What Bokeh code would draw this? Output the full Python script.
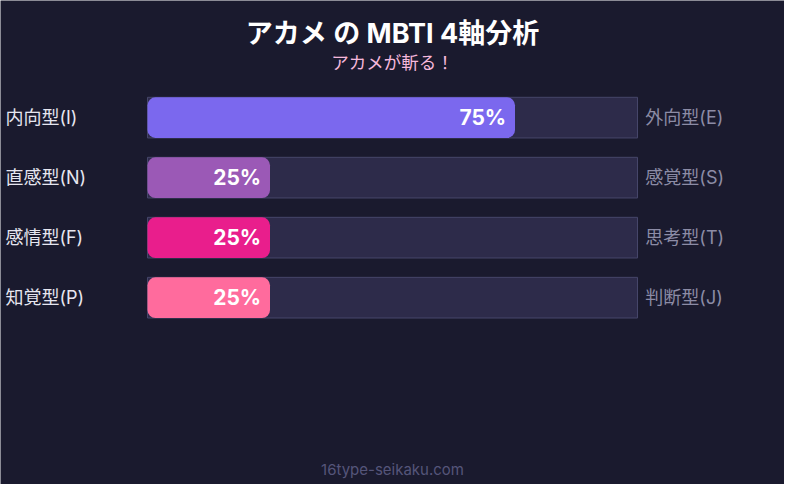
from bokeh.plotting import figure
from bokeh.models import Range1d
from bokeh.core.properties import value
from bokeh.embed import file_html
from bokeh.resources import INLINE

title = "アカメ の MBTI 4軸分析"
subtitle = "アカメが斬る！"
footer = "16type-seikaku.com"
left_labels = ["内向型(I)", "直感型(N)", "感情型(F)", "知覚型(P)"]
right_labels = ["外向型(E)", "感覚型(S)", "思考型(T)", "判断型(J)"]
percents = [75, 25, 25, 25]
colors = ["#7b68ee", "#9b59b6", "#e91e8c", "#ff6b9d"]

FONT = "Inter, 'Noto Sans CJK JP'"
W, H = 784, 484
# reference layout (800x500): x 0..100 -> px 150..650 ; row i -> px 121 + 62*i
px_per_x = 5.0
px_per_row = 62.0
x0_ref, y0_ref = 150.0, 121.0
x_start = (0 - x0_ref) / px_per_x
x_end = (800 - x0_ref) / px_per_x
y_top = (0 - y0_ref) / px_per_row
y_bot = (500 - y0_ref) / px_per_row

def fx(px):
    return (px - x0_ref) / px_per_x

def fy(py):
    return (py - y0_ref) / px_per_row

p = figure(width=W, height=H, output_backend="svg", toolbar_location=None,
           x_range=Range1d(x_start, x_end), y_range=Range1d(y_bot, y_top),
           min_border=0, background_fill_color="#1a1a2e",
           border_fill_color="#1a1a2e", outline_line_color=None)
p.axis.visible = False
p.grid.visible = False

rows = list(range(len(percents)))
bh = 42 / px_per_row

p.hbar(y=rows, left=0, right=100, height=bh, fill_color="#2d2b4a",
       line_color="#46466a", line_width=1)
p.hbar(y=rows, left=0, right=percents, height=bh, fill_color=colors,
       line_color=None, border_radius=8)

p.text(x=[v - 9 / px_per_x for v in percents], y=rows,
       text=[f"{v}%" for v in percents], text_align="right",
       text_baseline="middle", text_color="white", text_font_size="21px",
       text_font=value(FONT), text_font_style="bold")

p.text(x=[fx(5)] * 4, y=rows, text=left_labels,
       text_align="left", text_baseline="middle", text_color="#e6e6f0",
       text_font_size="18px", text_font=value(FONT))
p.text(x=[fx(658)] * 4, y=rows, text=right_labels,
       text_align="left", text_baseline="middle", text_color="#8c8ca6",
       text_font_size="18px", text_font=value(FONT))

cx = fx(400)
p.text(x=[cx], y=[fy(34)], text=[title],
       text_align="center", text_baseline="middle", text_color="white",
       text_font_size="27px", text_font=value(FONT), text_font_style="bold")
p.text(x=[cx], y=[fy(64)], text=[subtitle],
       text_align="center", text_baseline="middle", text_color="#f5b8dc",
       text_font_size="17.5px", text_font=value(FONT))
p.text(x=[cx], y=[fy(484)], text=[footer],
       text_align="center", text_baseline="middle", text_color="#55557a",
       text_font_size="15px", text_font=value(FONT))

open("out.html", "w").write(file_html(p, INLINE))
